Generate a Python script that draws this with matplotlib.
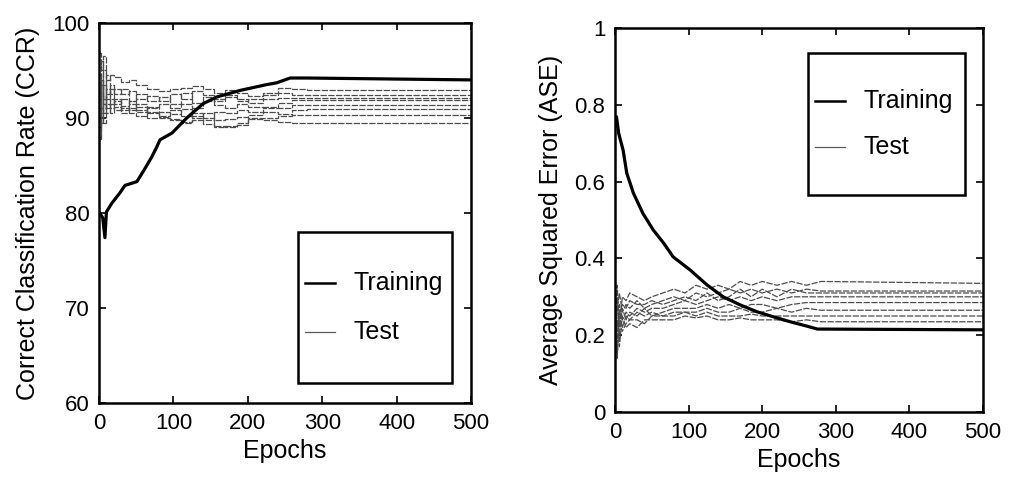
import matplotlib
matplotlib.use("Agg")
import matplotlib.pyplot as plt
from matplotlib.patches import Rectangle

plt.rcParams["font.family"] = ["Liberation Sans", "DejaVu Sans"]
plt.rcParams["font.size"] = 18
plt.rcParams["xtick.labelsize"] = 16
plt.rcParams["ytick.labelsize"] = 16

# training curves (epoch, value)
ccr_train_epochs = [0, 5, 8, 10, 17, 28, 35, 51, 62, 71, 78, 82, 98, 118, 140, 158,
                    190, 225, 239, 257, 279, 500]
ccr_train = [80.1, 79.5, 77.4, 80.1, 81.0, 82.1, 82.9, 83.3, 84.7, 85.9, 87.0, 87.7,
             88.4, 90.0, 91.5, 92.2, 92.9, 93.5, 93.7, 94.2, 94.2, 94.0]

ase_train_epochs = [0, 2, 5, 11, 16, 25, 38, 52, 66, 79, 102, 125, 147, 170, 193,
                    215, 238, 260, 275, 500]
ase_train = [0.77, 0.769, 0.726, 0.682, 0.622, 0.57, 0.517, 0.474, 0.44, 0.404, 0.37,
             0.331, 0.30, 0.279, 0.261, 0.248, 0.235, 0.224, 0.216, 0.214]

# test curves, one row per run, sampled on a common epoch grid
test_epochs = [0, 3, 6, 10, 15, 20, 30, 40, 50, 65, 80, 95, 110, 125, 140, 155,
               170, 185, 200, 220, 240, 260, 280, 500]

ccr_test = [
    [96.8, 95.0, 96.5, 94.0, 94.5, 94.3, 93.8, 94.0, 93.5, 93.0, 92.8, 93.0,
     93.2, 93.4, 93.0, 92.6, 92.9, 92.6, 92.3, 92.6, 93.1, 93.0, 92.9, 92.9],
    [88.0, 93.5, 92.0, 94.5, 92.5, 93.0, 92.5, 92.8, 92.0, 92.3, 91.8, 92.5,
     92.0, 92.8, 92.4, 92.0, 92.2, 91.8, 92.0, 92.4, 92.6, 92.4, 92.4, 92.4],
    [91.0, 96.0, 91.5, 92.0, 93.0, 91.5, 92.0, 91.5, 91.2, 91.0, 91.5, 91.0,
     91.5, 91.0, 91.8, 91.4, 91.0, 91.5, 91.2, 91.0, 91.6, 91.9, 91.9, 91.9],
    [89.0, 90.5, 95.0, 91.0, 91.5, 92.0, 91.0, 90.8, 91.5, 90.5, 90.2, 90.8,
     90.2, 90.5, 90.0, 90.6, 90.5, 90.8, 90.6, 91.2, 91.0, 91.4, 91.4, 91.4],
    [87.8, 91.0, 90.5, 93.0, 91.0, 91.2, 90.8, 91.0, 90.8, 90.0, 90.0, 89.9,
     89.5, 89.8, 89.8, 89.2, 89.0, 89.3, 90.0, 90.0, 90.2, 90.8, 90.9, 90.9],
    [92.0, 89.5, 93.5, 90.5, 92.0, 90.8, 91.3, 90.5, 90.2, 90.6, 90.1, 89.8,
     89.6, 90.2, 89.4, 89.0, 89.2, 89.5, 89.9, 89.8, 89.6, 89.5, 89.5, 89.5],
    [94.5, 92.5, 91.0, 92.5, 93.5, 92.5, 93.0, 91.8, 92.5, 91.8, 92.2, 91.5,
     92.6, 91.6, 92.2, 91.8, 92.4, 92.0, 91.6, 92.0, 92.1, 92.1, 92.1, 92.1],
    [90.0, 94.0, 89.5, 91.5, 90.5, 91.8, 90.5, 91.8, 90.6, 91.2, 90.6, 90.4,
     90.9, 90.0, 90.5, 89.8, 89.9, 90.1, 90.3, 90.6, 90.4, 90.3, 90.3, 90.3],
]

ase_test = [
    [0.20, 0.33, 0.22, 0.30, 0.29, 0.31, 0.30, 0.29, 0.30, 0.31, 0.32, 0.31,
     0.33, 0.32, 0.33, 0.32, 0.34, 0.33, 0.34, 0.33, 0.34, 0.33, 0.34, 0.335],
    [0.13, 0.27, 0.31, 0.26, 0.28, 0.27, 0.29, 0.27, 0.28, 0.29, 0.30, 0.29,
     0.31, 0.30, 0.31, 0.32, 0.31, 0.32, 0.31, 0.32, 0.31, 0.32, 0.315, 0.315],
    [0.25, 0.18, 0.28, 0.24, 0.26, 0.25, 0.27, 0.26, 0.27, 0.27, 0.28, 0.29,
     0.28, 0.29, 0.30, 0.29, 0.30, 0.29, 0.30, 0.29, 0.30, 0.30, 0.30, 0.30],
    [0.16, 0.24, 0.20, 0.27, 0.24, 0.26, 0.25, 0.27, 0.25, 0.26, 0.27, 0.27,
     0.27, 0.28, 0.27, 0.28, 0.27, 0.28, 0.28, 0.27, 0.28, 0.285, 0.285, 0.285],
    [0.30, 0.21, 0.25, 0.22, 0.25, 0.24, 0.26, 0.25, 0.26, 0.25, 0.26, 0.26,
     0.26, 0.27, 0.26, 0.26, 0.27, 0.26, 0.26, 0.27, 0.26, 0.27, 0.265, 0.265],
    [0.22, 0.15, 0.23, 0.21, 0.23, 0.24, 0.24, 0.23, 0.25, 0.25, 0.25, 0.26,
     0.25, 0.26, 0.25, 0.25, 0.25, 0.255, 0.25, 0.25, 0.25, 0.25, 0.25, 0.25],
    [0.18, 0.30, 0.17, 0.25, 0.22, 0.23, 0.22, 0.24, 0.24, 0.24, 0.24, 0.25,
     0.245, 0.25, 0.24, 0.24, 0.245, 0.24, 0.24, 0.24, 0.235, 0.24, 0.235, 0.235],
    [0.27, 0.14, 0.26, 0.28, 0.27, 0.29, 0.28, 0.28, 0.29, 0.28, 0.29, 0.30,
     0.29, 0.31, 0.29, 0.30, 0.32, 0.30, 0.32, 0.30, 0.32, 0.31, 0.31, 0.31],
]

epoch_ticks = [0, 100, 200, 300, 400, 500]
ccr_ticks = [60, 70, 80, 90, 100]
ase_ticks = [0, 0.2, 0.4, 0.6, 0.8, 1]
ase_tick_labels = ["0", "0.2", "0.4", "0.6", "0.8", "1"]
legend_labels = ["Training", "Test"]

test_style = dict(color="0.3", lw=0.9, ls=(0, (5, 1.2)))
train_style = dict(color="black", lw=2.3)


def style_axes(ax):
    ax.set_xlim(0, 500)
    ax.set_xticks(epoch_ticks)
    ax.set_xlabel("Epochs", labelpad=4)
    ax.tick_params(direction="in", top=True, right=True, length=5, width=1.2, pad=7)
    for sp in ax.spines.values():
        sp.set_linewidth(1.8)


def draw_legend(ax, box):
    # framed two-entry legend, box = (x0, y0, w, h) in axes fraction
    x0, y0, w, h = box
    ax.add_patch(Rectangle((x0, y0), w, h, transform=ax.transAxes, fill=False,
                           lw=1.8, ec="black", zorder=5))
    rows = [y0 + h * 0.66, y0 + h * 0.34]
    styles = [dict(color="black", lw=1.8), dict(color="0.35", lw=0.9)]
    for yy, lab, st in zip(rows, legend_labels, styles):
        ax.plot([x0 + 0.02, x0 + 0.10], [yy, yy], transform=ax.transAxes, zorder=6, **st)
        ax.text(x0 + 0.15, yy, lab, transform=ax.transAxes, va="center", ha="left",
                zorder=6)


fig = plt.figure(figsize=(10.11, 4.83), dpi=100)
ax1 = fig.add_axes([0.0979, 0.1656, 0.368, 0.787])
ax2 = fig.add_axes([0.6083, 0.147, 0.364, 0.795])

# CCR panel
for run in ccr_test:
    ax1.step(test_epochs, run, where="post", **test_style)
ax1.plot(ccr_train_epochs, ccr_train, **train_style)
ax1.set_ylim(60, 100)
ax1.set_yticks(ccr_ticks)
ax1.set_ylabel("Correct Classification Rate (CCR)", labelpad=9)
style_axes(ax1)
draw_legend(ax1, (0.535, 0.053, 0.414, 0.397))

# ASE panel
for run in ase_test:
    ax2.plot(test_epochs, run, **test_style)
ax2.plot(ase_train_epochs, ase_train, **train_style)
ax2.set_ylim(0, 1)
ax2.set_yticks(ase_ticks)
ax2.set_yticklabels(ase_tick_labels)
ax2.set_ylabel("Average Squared Error (ASE)", labelpad=8)
style_axes(ax2)
draw_legend(ax2, (0.524, 0.565, 0.427, 0.37))

fig.savefig("out.png", dpi=100)
